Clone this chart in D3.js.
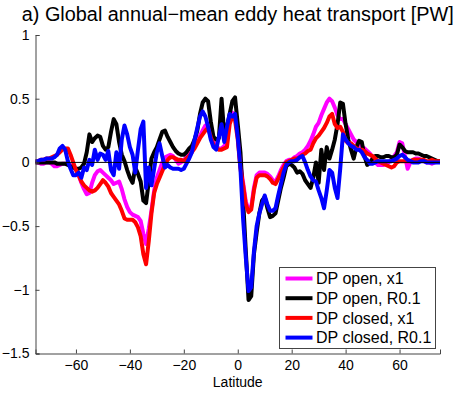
<!DOCTYPE html>
<html>
<head>
<meta charset="utf-8">
<script src="https://cdn.jsdelivr.net/npm/d3@7"></script>
<style>
  body { margin: 0; background: #fff; }
  svg text { font-family: "Liberation Sans", Arial, Helvetica, sans-serif; fill: #000; }
</style>
</head>
<body>
<div id="chart"></div>
<script>
// latitude grid, 1 degree
const lats = d3.range(-75, 76);

// DP open, x1 (magenta)
const openX1 = [
  0.0, 0.0, -0.01, -0.01, 0.0, 0.0, -0.01, -0.03, -0.03, -0.02,
  -0.01, -0.01, -0.01, -0.02, -0.04, -0.05, -0.10, -0.16, -0.21, -0.25,
  -0.24, -0.16, -0.10, -0.07, -0.06, -0.08, -0.10, -0.12, -0.14, -0.17,
  -0.16, -0.15, -0.21, -0.29, -0.35, -0.39, -0.41, -0.42, -0.43, -0.46,
  -0.56, -0.64, -0.52, -0.38, -0.22, -0.12, -0.06, 0.0, 0.04, 0.05,
  0.06, 0.05, 0.02, -0.01, 0.0, 0.02, 0.04, 0.08, 0.10, 0.13,
  0.17, 0.21, 0.25, 0.29, 0.28, 0.22, 0.16, 0.12, 0.11, 0.11,
  0.13, 0.16, 0.35, 0.39, 0.37, 0.22, -0.02, -0.16, -0.31, -0.37,
  -0.35, -0.20, -0.10, -0.08, -0.08, -0.08, -0.09, -0.11, -0.14, -0.15,
  -0.11, -0.06, -0.02, 0.01, 0.02, 0.02, 0.04, 0.05, 0.07, 0.08,
  0.10, 0.13, 0.17, 0.22, 0.28, 0.31, 0.37, 0.42, 0.47, 0.50,
  0.48, 0.43, 0.37, 0.34, 0.34, 0.30, 0.26, 0.22, 0.18, 0.16,
  0.14, 0.12, 0.11, 0.09, 0.07, 0.04, 0.0, -0.02, -0.02, -0.02,
  -0.01, 0.0, 0.02, 0.05, 0.08, 0.16, 0.15, 0.05, -0.05, 0.0,
  0.02, 0.03, 0.03, 0.02, 0.01, 0.0, 0.0, -0.01, 0.0, 0.01,
  0.01
];

// DP open, R0.1 (black)
const openR01 = [
  0.0, 0.0, 0.0, 0.0, 0.0, 0.0, 0.0, 0.0, -0.01, -0.01,
  -0.01, -0.01, -0.02, -0.03, -0.04, -0.05, -0.05, -0.04, -0.01, 0.08,
  0.22, 0.16, 0.19, 0.21, 0.20, 0.13, 0.10, 0.12, 0.24, 0.34,
  0.30, 0.16, 0.06, 0.01, -0.06, -0.12, -0.16, -0.04, -0.09, -0.15,
  -0.30, -0.32, -0.15, 0.03, 0.08, 0.12, 0.18, 0.24, 0.25, 0.20,
  0.16, 0.12, 0.09, 0.07, 0.06, 0.06, 0.08, 0.11, 0.13, 0.18,
  0.25, 0.38, 0.47, 0.50, 0.48, 0.32, 0.20, 0.18, 0.19, 0.50,
  0.22, 0.28, 0.38, 0.48, 0.51, 0.30, 0.08, -0.30, -0.70, -1.08,
  -1.05, -0.72, -0.55, -0.40, -0.30, -0.27, -0.36, -0.43, -0.42, -0.40,
  -0.30, -0.20, -0.12, -0.03, -0.01, -0.02, -0.04, -0.08, -0.07, -0.09,
  -0.14, -0.17, -0.20, -0.12, 0.0, -0.16, 0.10, -0.06, 0.12, 0.03,
  0.10, 0.18, 0.30, 0.47, 0.46, 0.30, 0.18, 0.10, 0.03, 0.12,
  0.17, 0.16, 0.05, -0.02, 0.0, 0.03, 0.05, 0.05, 0.04, 0.04,
  0.05, 0.05, 0.04, 0.04, 0.06, 0.14, 0.12, 0.09, 0.08, 0.08,
  0.08, 0.07, 0.07, 0.06, 0.05, 0.05, 0.04, 0.03, 0.02, 0.01,
  0.01
];

// DP closed, x1 (red)
const closedX1 = [
  0.01, 0.01, 0.02, 0.02, 0.03, 0.03, 0.04, 0.05, 0.06, 0.08,
  0.10, 0.11, 0.11, 0.06, 0.0, -0.06, -0.10, -0.15, -0.18, -0.20,
  -0.22, -0.23, -0.22, -0.20, -0.17, -0.14, -0.16, -0.19, -0.24, -0.27,
  -0.30, -0.33, -0.38, -0.44, -0.45, -0.45, -0.45, -0.47, -0.51, -0.58,
  -0.72, -0.80, -0.62, -0.40, -0.24, -0.17, -0.12, -0.07, -0.02, 0.02,
  0.04, 0.04, 0.03, 0.02, 0.02, 0.01, 0.03, 0.05, 0.08, 0.11,
  0.15, 0.19, 0.22, 0.25, 0.27, 0.20, 0.14, 0.11, 0.10, 0.10,
  0.11, 0.12, 0.30, 0.36, 0.33, 0.18, -0.05, -0.18, -0.33, -0.39,
  -0.37, -0.22, -0.12, -0.10, -0.10, -0.10, -0.11, -0.13, -0.16, -0.17,
  -0.13, -0.08, -0.04, 0.0, 0.01, 0.02, 0.03, 0.03, 0.04, 0.06,
  0.07, 0.09, 0.10, 0.15, 0.19, 0.21, 0.24, 0.27, 0.31, 0.36,
  0.38, 0.30, 0.27, 0.28, 0.24, 0.17, 0.15, 0.15, 0.13, 0.11,
  0.10, 0.10, 0.09, 0.07, 0.06, 0.05, 0.03, 0.01, 0.0, -0.01,
  -0.02, -0.03, -0.04, -0.03, 0.0, 0.01, 0.01, 0.01, 0.01, 0.01,
  0.02, 0.02, 0.02, 0.02, 0.02, 0.01, 0.01, 0.02, 0.01, 0.01,
  0.01
];

// DP closed, R0.1 (blue)
const closedR01 = [
  0.01, 0.01, 0.02, 0.02, 0.03, 0.03, 0.03, 0.04, 0.06, 0.11,
  0.13, 0.10, 0.01, -0.05, -0.10, -0.10, -0.08, -0.12, -0.04, -0.06,
  0.02, -0.02, 0.10, 0.02, 0.07, 0.06, 0.02, 0.09, -0.06, -0.10,
  0.08, -0.05, 0.18, 0.29, 0.22, 0.12, 0.06, -0.08, 0.10, 0.26,
  0.32, -0.20, -0.04, -0.18, -0.05, 0.08, 0.15, 0.05, -0.04, -0.02,
  -0.04, -0.05, -0.05, -0.05, -0.06, -0.05, -0.01, 0.03, 0.08, 0.18,
  0.27, 0.36, 0.40, 0.36, 0.28, 0.18, 0.12, 0.10, 0.20, 0.30,
  0.16, 0.28, 0.38, 0.36, 0.38, 0.20, -0.05, -0.45, -0.75, -1.01,
  -0.98, -0.70, -0.50, -0.40, -0.33, -0.26, -0.33, -0.38, -0.38, -0.36,
  -0.26, -0.17, -0.08, -0.02, 0.0, 0.01, 0.01, 0.02, 0.04, 0.05,
  0.0, -0.06, -0.11, -0.14, -0.15, -0.22, -0.28, -0.36, -0.22, -0.06,
  -0.08, -0.20, -0.28, -0.05, 0.22, 0.18, 0.15, 0.13, 0.12, 0.10,
  0.10, 0.08, 0.04, 0.02, -0.01, -0.01, 0.0, 0.01, 0.01, 0.01,
  0.01, 0.01, 0.01, 0.02, 0.03, 0.05, 0.06, 0.04, 0.02, 0.01,
  0.0, 0.0, 0.0, 0.01, 0.01, 0.0, 0.0, 0.0, 0.0, 0.0,
  0.0
];

const seriesNames = ["DP open, x1", "DP open, R0.1", "DP closed, x1", "DP closed, R0.1"];
const seriesColors = ["#ff00ff", "#000000", "#ff0000", "#0000ff"];
const seriesValues = [openX1, openR01, closedX1, closedR01];

const xTicks = [-60, -40, -20, 0, 20, 40, 60];
const yTicks = [-1.5, -1, -0.5, 0, 0.5, 1];

const W = 460, H = 393;
const margin = { top: 35, right: 20, bottom: 40, left: 35.5 };
const width = 440 - margin.left;
const height = 353.5 - margin.top;

const svg = d3.select("#chart").append("svg")
    .attr("width", W)
    .attr("height", H);

const g = svg.append("g")
    .attr("transform", `translate(${margin.left},${margin.top})`);

const x = d3.scaleLinear().domain([-75, 75]).range([0, width]);
const y = d3.scaleLinear().domain([-1.5, 1]).range([height, 0]);

const fmt = d => d3.format("")(d).replace("-", "\u2212");

svg.append("defs").append("clipPath").attr("id", "clip")
    .append("rect").attr("x", 0).attr("y", 0).attr("width", width).attr("height", height);

// lines
const line = d3.line()
    .x((d, i) => x(lats[i]))
    .y(d => y(d));

const plot = g.append("g").attr("clip-path", "url(#clip)");
seriesValues.forEach((vals, k) => {
    plot.append("path")
        .datum(vals)
        .attr("fill", "none")
        .attr("stroke", seriesColors[k])
        .attr("stroke-width", 4)
        .attr("stroke-linejoin", "round")
        .attr("stroke-linecap", "round")
        .attr("d", line);
});

// zero line
g.append("line")
    .attr("x1", 0).attr("x2", width)
    .attr("y1", y(0)).attr("y2", y(0))
    .attr("stroke", "#000")
    .attr("stroke-width", 1);

// axes
const xAxis = g.append("g")
    .attr("transform", `translate(0,${height})`)
    .call(d3.axisBottom(x).tickValues(xTicks).tickSize(-4).tickPadding(7).tickFormat(fmt));
const yAxis = g.append("g")
    .call(d3.axisLeft(y).tickValues(yTicks).tickSize(-4).tickPadding(6).tickFormat(fmt));

[xAxis, yAxis].forEach(ax => {
    ax.select(".domain").attr("stroke", "#444");
    ax.selectAll(".tick line").attr("stroke", "#444");
    ax.selectAll(".tick text").style("font-size", "14px").attr("fill", "#000");
});
xAxis.selectAll(".tick text").attr("dy", "0.71em");

// x axis label
g.append("text")
    .attr("x", x(0))
    .attr("y", height + 33)
    .attr("text-anchor", "middle")
    .style("font-size", "14px")
    .text("Latitude");

// title
svg.append("text")
    .attr("x", margin.left + width / 2)
    .attr("y", 21)
    .attr("text-anchor", "middle")
    .style("font-size", "20px")
    .attr("textLength", 432)
    .attr("lengthAdjust", "spacingAndGlyphs")
    .text("a) Global annual\u2212mean eddy heat transport [PW]");

// legend
const lg = svg.append("g").attr("transform", "translate(279.5,267.5)");
lg.append("rect")
    .attr("width", 156)
    .attr("height", 81)
    .attr("fill", "#fff")
    .attr("stroke", "#444")
    .attr("stroke-width", 1);
seriesNames.forEach((name, k) => {
    const yy = 11 + k * 19.7;
    lg.append("line")
        .attr("x1", 6).attr("x2", 33)
        .attr("y1", yy).attr("y2", yy)
        .attr("stroke", seriesColors[k])
        .attr("stroke-width", 4);
    lg.append("text")
        .attr("x", 36.5)
        .attr("y", yy)
        .attr("dy", "0.36em")
        .style("font-size", "16px")
        .text(name);
});
</script>
</body>
</html>
